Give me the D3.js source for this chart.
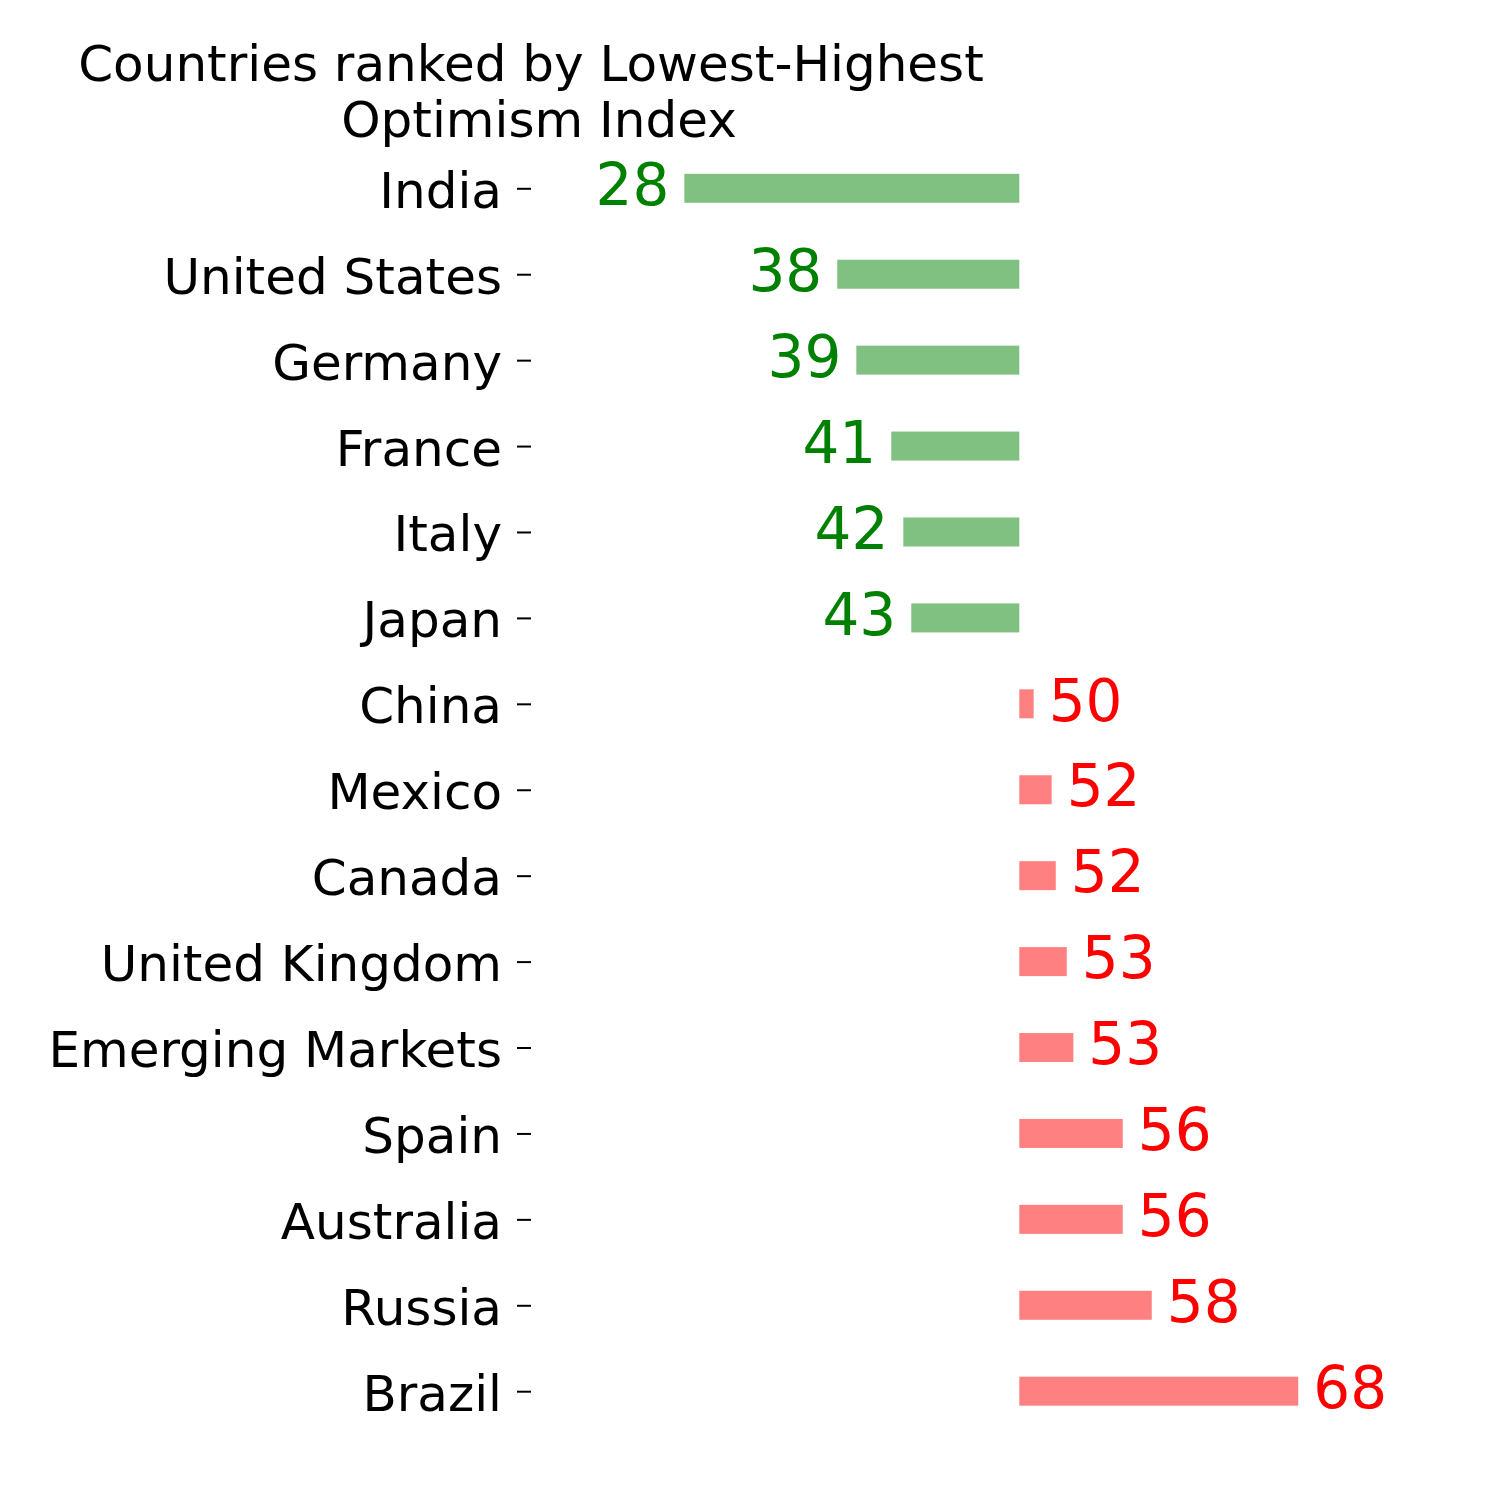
<!DOCTYPE html>
<html>
<head>
<meta charset="utf-8">
<script src="https://cdn.jsdelivr.net/npm/d3@7"></script>
<style>
body { margin: 0; background: #fff; }
svg { display: block; }
svg text { font-family: "DejaVu Sans", sans-serif; }
</style>
</head>
<body>
<div id="chart"></div>
<script>
// data
const countries = ["India","United States","Germany","France","Italy","Japan","China",
  "Mexico","Canada","United Kingdom","Emerging Markets","Spain","Australia","Russia","Brazil"];
const scores = [28.05,38.07,39.32,41.61,42.40,42.92,50.94,52.12,52.39,53.11,53.54,56.78,56.78,58.68,68.28];
const scoreLabels = [28,38,39,41,42,43,50,52,52,53,53,56,56,58,68];
const midpoint = 50;
const titleLines = ["Countries ranked by Lowest-Highest", "Optimism Index"];

const width = 1500, height = 1500;

const root = d3.select('#chart').append('svg')
  .attr('width', width).attr('height', height)
  .attr('xmlns', 'http://www.w3.org/2000/svg');
root.append('rect').attr('width', width).attr('height', height).attr('fill', '#fff');

const x = d3.scaleLinear().domain([18, 70]).range([531, 1324.5]);
const y = d3.scalePoint().domain(countries).range([188.3, 1391.2]);
const barH = 29;

const rows = countries.map((c, i) => ({c: c, v: scores[i], t: scoreLabels[i]}));

// bars, drawn from the midpoint outwards
root.append('g').selectAll('rect').data(rows).enter().append('rect')
  .attr('x', d => x(Math.min(d.v, midpoint)))
  .attr('width', d => Math.abs(x(d.v) - x(midpoint)))
  .attr('y', d => y(d.c) - barH/2)
  .attr('height', barH)
  .attr('fill', d => d.v < midpoint ? '#80c080' : '#ff8080');

// value labels
root.append('g').selectAll('text').data(rows).enter().append('text')
  .attr('x', d => d.v < midpoint ? x(d.v) - 15 : x(d.v) + 15)
  .attr('y', d => y(d.c) + 16.7)
  .attr('text-anchor', d => d.v < midpoint ? 'end' : 'start')
  .attr('font-size', 58)
  .attr('fill', d => d.v < midpoint ? '#008000' : '#ff0000')
  .text(d => d.t);

// y axis: ticks and labels only
const yAxis = root.append('g').attr('transform', 'translate(531,0)')
  .call(d3.axisLeft(y).tickSize(14).tickPadding(15));
yAxis.select('.domain').remove();
yAxis.selectAll('.tick line').attr('stroke', '#000').attr('stroke-width', 2);
yAxis.selectAll('.tick text')
  .attr('font-size', 50).attr('font-family', '"DejaVu Sans", sans-serif')
  .attr('fill', '#000').attr('dy', '0.38em');

// title
root.append('text').attr('x', 531).attr('y', 81)
  .attr('text-anchor', 'middle').attr('font-size', 50).text(titleLines[0]);
root.append('text').attr('x', 539).attr('y', 137)
  .attr('text-anchor', 'middle').attr('font-size', 50).text(titleLines[1]);
</script>
</body>
</html>
